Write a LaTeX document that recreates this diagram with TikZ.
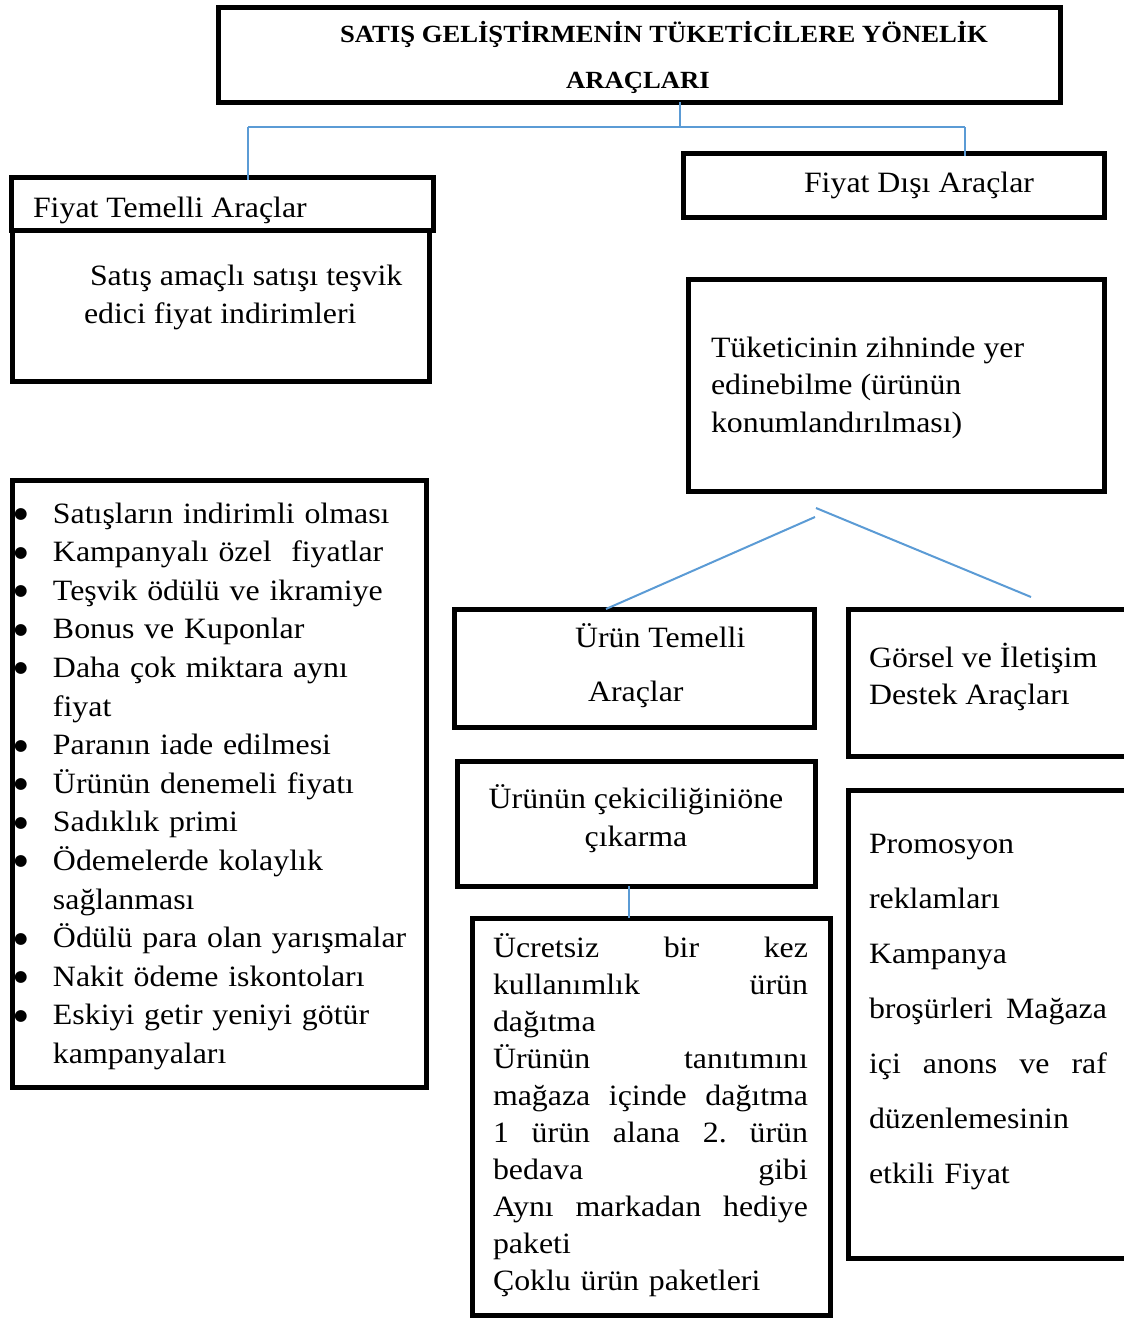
\documentclass[tikz,border=0pt]{standalone}
\usepackage{fontspec}
\setmainfont[FakeStretch=1.08]{Liberation Serif}
\newfontfamily\bulfont{DejaVu Sans}
\definecolor{connblue}{HTML}{5B9BD5}
\newcommand\lbul{\makebox[39pt][l]{\raisebox{4.5pt}{\fontsize{15.5}{15.5}\bulfont ●}}}
\newcommand\lind{\hspace*{39pt}}
\newcommand\jfull[2]{\makebox[#1][l]{#2}}
\tikzset{
  box/.style={draw=black, line width=5pt, inner sep=0pt, outer sep=0pt, anchor=north west},
  conn/.style={draw=connblue, line width=2pt},
  txt/.style={inner sep=0pt, outer sep=0pt, anchor=base west, align=left,
              font=\fontsize{29.5}{37}\selectfont},
}
\begin{document}
\begin{tikzpicture}[x=1pt,y=-1pt]
\useasboundingbox (0,0) rectangle (1124,1320);

% boxes
\node[box, minimum width=842pt, minimum height=95pt]  (title) at (218,7) {};
\node[box, minimum width=422pt, minimum height=53pt]  (ftl)   at (11,177) {};
\node[box, minimum width=417pt, minimum height=151pt] (sat)   at (12.5,230) {};
\node[box, minimum width=421pt, minimum height=64pt]  (fdis)  at (683,153) {};
\node[box, minimum width=416pt, minimum height=212pt] (tuk)   at (688,279) {};
\node[box, minimum width=360pt, minimum height=118pt] (ut)    at (454,609) {};
\node[box, minimum width=292pt, minimum height=147pt] (gor)   at (848,609) {};
\node[box, minimum width=358pt, minimum height=125pt] (cek)   at (457,761) {};
\node[box, minimum width=358pt, minimum height=397pt] (ucr)   at (472,918) {};
\node[box, minimum width=292pt, minimum height=468pt] (pro)   at (848,790) {};
\node[box, minimum width=414pt, minimum height=607pt] (lst)   at (12,480) {};

% connectors
\coordinate (hub)  at (680,127);
\coordinate (barL) at (248,127);
\coordinate (barR) at (965,127);
\draw[conn] (title.south -| hub) -- (hub);
\draw[conn] (barL) -- (barR);
\draw[conn] (barL) -- ([yshift=-3pt]ftl.north -| barL);
\draw[conn] (barR) -- ([yshift=-3pt]fdis.north -| barR);
\coordinate (sL) at (815,517);
\coordinate (eLx) at (606,0);
\draw[conn] (sL) -- (ut.north -| eLx);
\coordinate (sR) at (816,508);
\coordinate (eR) at (1031,597);
\draw[conn] (sR) -- (eR);
\coordinate (vx) at (629,0);
\draw[conn] (cek.south -| vx) -- (ucr.north -| vx);

% texts (multi-line nodes without text width: base = last line)
\node[txt, font=\bfseries\fontsize{24.7}{46}\selectfont] (titletxt) at (340,88)
  {SATIŞ GELİŞTİRMENİN TÜKETİCİLERE YÖNELİK\\\hspace*{226pt}ARAÇLARI};
\node[txt] (ftltxt) at (33,217) {Fiyat Temelli Araçlar};
\node[txt, font=\fontsize{29.5}{38}\selectfont] (sattxt) at (90,323)
  {Satış amaçlı satışı teşvik\\\hspace*{-6pt}edici fiyat indirimleri};
\node[txt] (fdistxt) at (804,192) {Fiyat Dışı Araçlar};
\node[txt, font=\fontsize{29.5}{37.5}\selectfont] (tuktxt) at (711,432)
  {Tüketicinin zihninde yer\\edinebilme (ürünün\\konumlandırılması)};
\node[txt, font=\fontsize{29.5}{54}\selectfont] (uttxt) at (575,701)
  {Ürün Temelli\\\hspace*{13pt}Araçlar};
\node[txt] (gortxt) at (869,704) {Görsel ve İletişim\\Destek Araçları};
\node[txt, align=center, font=\fontsize{29.5}{38}\selectfont, anchor=base] (cektxt) at (636,846)
  {Ürünün çekiciliğiniöne\\çıkarma};
\node[txt, text width=315pt] (ucrtxt) at (493,957)
  {\jfull{315pt}{Ücretsiz\hfill bir\hfill kez}\\
   \jfull{315pt}{kullanımlık\hfill ürün}\\
   dağıtma\\
   \jfull{315pt}{Ürünün\hfill tanıtımını}\\
   \jfull{315pt}{mağaza\hfill içinde\hfill dağıtma}\\
   \jfull{315pt}{1\hfill ürün\hfill alana\hfill 2.\hfill ürün}\\
   \jfull{315pt}{bedava\hfill gibi}\\
   \jfull{315pt}{Aynı\hfill markadan\hfill hediye}\\
   paketi\\
   Çoklu ürün paketleri};
\node[txt, text width=238pt, font=\fontsize{29.5}{55}\selectfont] (protxt) at (869,853)
  {Promosyon\\
   reklamları\\
   Kampanya\\
   \jfull{238pt}{broşürleri\hfill Mağaza}\\
   \jfull{238pt}{içi\hfill anons\hfill ve\hfill raf}\\
   düzenlemesinin\\
   etkili Fiyat};
\node[txt, text width=410pt, font=\fontsize{29.5}{38.6}\selectfont] (lsttxt) at (14,523)
  {\lbul Satışların indirimli olması\\
   \lbul Kampanyalı özel\ \ fiyatlar\\
   \lbul Teşvik ödülü ve ikramiye\\
   \lbul Bonus ve Kuponlar\\
   \lbul Daha çok miktara aynı\\
   \lind fiyat\\
   \lbul Paranın iade edilmesi\\
   \lbul Ürünün denemeli fiyatı\\
   \lbul Sadıklık primi\\
   \lbul Ödemelerde kolaylık\\
   \lind sağlanması\\
   \lbul Ödülü para olan yarışmalar\\
   \lbul Nakit ödeme iskontoları\\
   \lbul Eskiyi getir yeniyi götür\\
   \lind kampanyaları};
\end{tikzpicture}
\end{document}
